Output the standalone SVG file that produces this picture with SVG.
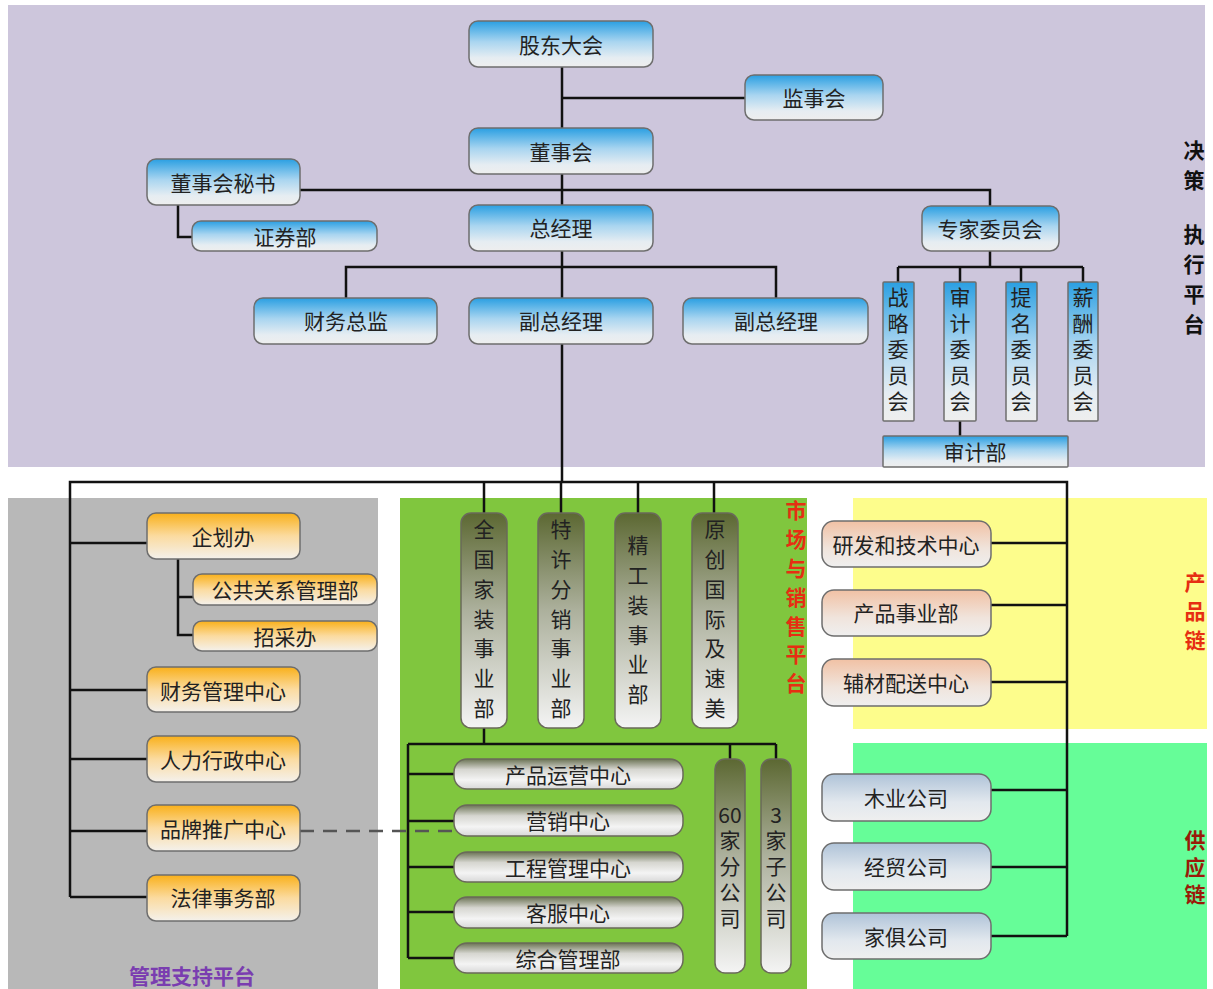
<svg xmlns="http://www.w3.org/2000/svg" width="1213" height="989" viewBox="0 0 1213 989">
<defs>
<linearGradient id="gBlue" x1="0" y1="0" x2="0" y2="1">
<stop offset="0" stop-color="#2a9fe2"/><stop offset="0.45" stop-color="#a9d5f0"/><stop offset="0.8" stop-color="#e6edf2"/><stop offset="1" stop-color="#eeeeee"/>
</linearGradient>
<linearGradient id="gOrange" x1="0" y1="0" x2="0" y2="1">
<stop offset="0" stop-color="#f9b01a"/><stop offset="0.5" stop-color="#fbdba0"/><stop offset="1" stop-color="#f4f1ec"/>
</linearGradient>
<linearGradient id="gOlive" x1="0" y1="0" x2="0" y2="1">
<stop offset="0" stop-color="#5c6832"/><stop offset="0.45" stop-color="#acb09c"/><stop offset="1" stop-color="#f4f4f4"/>
</linearGradient>
<linearGradient id="gPill" x1="0" y1="0" x2="0" y2="1">
<stop offset="0" stop-color="#6b7354"/><stop offset="0.35" stop-color="#d6d6d0"/><stop offset="0.7" stop-color="#f4f4f4"/><stop offset="1" stop-color="#d8d8d8"/>
</linearGradient>
<linearGradient id="gPeach" x1="0" y1="0" x2="0" y2="1">
<stop offset="0" stop-color="#f1c1a4"/><stop offset="0.6" stop-color="#f0e4dc"/><stop offset="1" stop-color="#efefef"/>
</linearGradient>
<linearGradient id="gSteel" x1="0" y1="0" x2="0" y2="1">
<stop offset="0" stop-color="#afc3d8"/><stop offset="0.6" stop-color="#e2e8ee"/><stop offset="1" stop-color="#efefef"/>
</linearGradient>
<style>
.t{font-family:"Noto Sans CJK SC","Liberation Sans",sans-serif;font-size:21px;fill:#222;text-anchor:middle;dominant-baseline:central}
.v{font-family:"Noto Sans CJK SC","Liberation Sans",sans-serif;font-size:21px;fill:#222;writing-mode:vertical-rl;text-anchor:start}
.v5{letter-spacing:5px}
.v9{letter-spacing:8.7px}
.side{font-family:"Noto Sans CJK SC","Liberation Sans",sans-serif;font-size:21px;font-weight:bold;writing-mode:vertical-rl;text-anchor:start}
.sideh{font-family:"Noto Sans CJK SC","Liberation Sans",sans-serif;font-size:21px;font-weight:bold;text-anchor:middle;dominant-baseline:central}
.blue{fill:url(#gBlue);stroke:#6e6e6e;stroke-width:1.5}
.org{fill:url(#gOrange);stroke:#6e6e6e;stroke-width:1.5}
.olv{fill:url(#gOlive);stroke:#6a6a5a;stroke-width:1.5}
.pil{fill:url(#gPill);stroke:#6a6a5a;stroke-width:1.5}
.pch{fill:url(#gPeach);stroke:#6e6e6e;stroke-width:1.5}
.stl{fill:url(#gSteel);stroke:#6e6e6e;stroke-width:1.5}
.ln{fill:none;stroke:#111;stroke-width:2.5}
.dash{fill:none;stroke:#555;stroke-width:2.5;stroke-dasharray:14 9}
</style>
</defs>
<rect width="1213" height="989" fill="#ffffff"/>
<g id="panels">
<rect x="8" y="5" width="1197" height="462" fill="#cdc6dc"/>
<rect x="8" y="498" width="370" height="491" fill="#b8b8b8"/>
<rect x="400" y="498" width="407" height="491" fill="#80c63e"/>
<rect x="853" y="498" width="354" height="231" fill="#fdfd8c"/>
<rect x="853" y="743" width="354" height="246" fill="#66fd98"/>
</g>
<g id="connectors">
<path class="ln" d="M562 67V128M562 98H745M562 174V205M300 190H990V206M178 205V237H192M562 251V298M346 298V267H776V298M562 344V482"/>
<path class="ln" d="M990 251V267M898 267H1083M898 267V282M960 267V282M1021 267V282M1083 267V282M960 421V436"/>
<path class="ln" d="M70 897V482H1067V936M484 482V513M561 482V513M638 482V513M714 482V513"/>
<path class="ln" d="M70 543H147M70 690H147M70 759H147M70 831H147M70 897H147M178 559V635H193M178 597H193"/>
<path class="ln" d="M484 728V744M408 744H776M408 744V958M408 774H454M408 821H454M408 867H454M408 912H454M408 958H454M730 744V759M776 744V759"/>
<path class="ln" d="M991 543H1067M991 605H1067M991 682H1067M991 790H1067M991 867H1067M991 936H1067"/>
<path class="dash" d="M300 831H455"/>
</g>
<g id="n-gudong"><rect class="blue" x="469" y="21" width="184" height="46" rx="9"/><text class="t" x="561" y="44">股东大会</text></g>
<g id="n-jianshi"><rect class="blue" x="745" y="75" width="138" height="45" rx="9"/><text class="t" x="814" y="97">监事会</text></g>
<g id="n-dongshi"><rect class="blue" x="469" y="128" width="184" height="46" rx="9"/><text class="t" x="561" y="151">董事会</text></g>
<g id="n-mishu"><rect class="blue" x="147" y="159" width="153" height="46" rx="9"/><text class="t" x="223" y="182">董事会秘书</text></g>
<g id="n-zhengquan"><rect class="blue" x="192" y="221" width="185" height="30" rx="9"/><text class="t" x="285" y="236">证券部</text></g>
<g id="n-zongjingli"><rect class="blue" x="469" y="205" width="184" height="46" rx="9"/><text class="t" x="561" y="227">总经理</text></g>
<g id="n-zhuanjia"><rect class="blue" x="922" y="206" width="137" height="45" rx="9"/><text class="t" x="990" y="228">专家委员会</text></g>
<g id="n-caiwuzj"><rect class="blue" x="254" y="298" width="183" height="46" rx="9"/><text class="t" x="346" y="320">财务总监</text></g>
<g id="n-fuzong1"><rect class="blue" x="469" y="298" width="184" height="46" rx="9"/><text class="t" x="561" y="320">副总经理</text></g>
<g id="n-fuzong2"><rect class="blue" x="683" y="298" width="185" height="46" rx="9"/><text class="t" x="776" y="320">副总经理</text></g>
<g id="n-zhanlue"><rect class="blue" x="883" y="282" width="31" height="139" rx="1"/><text class="v v5" x="898" y="287">战略委员会</text></g>
<g id="n-shenji"><rect class="blue" x="944" y="282" width="32" height="139" rx="1"/><text class="v v5" x="960" y="287">审计委员会</text></g>
<g id="n-timing"><rect class="blue" x="1006" y="282" width="31" height="139" rx="1"/><text class="v v5" x="1021" y="287">提名委员会</text></g>
<g id="n-xinchou"><rect class="blue" x="1068" y="282" width="30" height="139" rx="1"/><text class="v v5" x="1083" y="287">薪酬委员会</text></g>
<g id="n-shenjibu"><rect class="blue" x="883" y="436" width="185" height="31" rx="1"/><text class="t" x="975" y="451">审计部</text></g>
<g id="lbl-juece"><text class="side" fill="#111" x="1194" y="140" style="letter-spacing:9px">决策</text><text class="side" fill="#111" x="1194" y="224" style="letter-spacing:9px">执行平台</text></g>
<g id="n-qihua"><rect class="org" x="147" y="513" width="153" height="46" rx="9"/><text class="t" x="223" y="536">企划办</text></g>
<g id="n-gonggong"><rect class="org" x="193" y="574" width="184" height="31" rx="9"/><text class="t" x="285" y="589">公共关系管理部</text></g>
<g id="n-zhaocai"><rect class="org" x="193" y="621" width="184" height="30" rx="9"/><text class="t" x="285" y="636">招采办</text></g>
<g id="n-caiwugl"><rect class="org" x="147" y="667" width="153" height="45" rx="9"/><text class="t" x="223" y="690">财务管理中心</text></g>
<g id="n-renli"><rect class="org" x="147" y="736" width="153" height="46" rx="9"/><text class="t" x="223" y="759">人力行政中心</text></g>
<g id="n-pinpai"><rect class="org" x="147" y="805" width="153" height="46" rx="9"/><text class="t" x="223" y="828">品牌推广中心</text></g>
<g id="n-falv"><rect class="org" x="147" y="875" width="153" height="46" rx="9"/><text class="t" x="223" y="897">法律事务部</text></g>
<g id="lbl-guanli"><text class="sideh" fill="#7a3db0" x="192" y="975">管理支持平台</text></g>
<g id="n-quanguo"><rect class="olv" x="461" y="513" width="46" height="215" rx="10"/><text class="v v9" x="484" y="519">全国家装事业部</text></g>
<g id="n-texu"><rect class="olv" x="538" y="513" width="46" height="215" rx="10"/><text class="v v9" x="561" y="519">特许分销事业部</text></g>
<g id="n-jinggong"><rect class="olv" x="615" y="513" width="46" height="215" rx="10"/><text class="v v9" x="638" y="535">精工装事业部</text></g>
<g id="n-yuanchuang"><rect class="olv" x="692" y="513" width="46" height="215" rx="10"/><text class="v v9" x="715" y="519">原创国际及速美</text></g>
<g id="lbl-shichang"><text class="side" fill="#e62e12" x="796" y="500" style="letter-spacing:7.8px">市场与销售平台</text></g>
<g id="n-chanpinyy"><rect class="pil" x="454" y="759" width="229" height="30" rx="13"/><text class="t" x="568" y="774">产品运营中心</text></g>
<g id="n-yingxiao"><rect class="pil" x="454" y="805" width="229" height="31" rx="13"/><text class="t" x="568" y="820">营销中心</text></g>
<g id="n-gongcheng"><rect class="pil" x="454" y="852" width="229" height="30" rx="13"/><text class="t" x="568" y="867">工程管理中心</text></g>
<g id="n-kefu"><rect class="pil" x="454" y="897" width="229" height="31" rx="13"/><text class="t" x="568" y="912">客服中心</text></g>
<g id="n-zonghe"><rect class="pil" x="454" y="943" width="229" height="30" rx="13"/><text class="t" x="568" y="958">综合管理部</text></g>
<g id="n-fengongsi"><rect class="olv" x="715" y="759" width="30" height="214" rx="10"/><text class="t" x="730" y="814">60</text><text class="v v5" x="730" y="830">家分公司</text></g>
<g id="n-zigongsi"><rect class="olv" x="761" y="759" width="30" height="214" rx="10"/><text class="t" x="776" y="814">3</text><text class="v v5" x="776" y="830">家子公司</text></g>
<g id="n-yanfa"><rect class="pch" x="822" y="521" width="169" height="46" rx="12"/><text class="t" x="906" y="544">研发和技术中心</text></g>
<g id="n-chanpinsy"><rect class="pch" x="822" y="590" width="169" height="46" rx="12"/><text class="t" x="906" y="612">产品事业部</text></g>
<g id="n-fucai"><rect class="pch" x="822" y="659" width="169" height="47" rx="12"/><text class="t" x="906" y="682">辅材配送中心</text></g>
<g id="lbl-chanpinlian"><text class="side" fill="#e62e12" x="1195" y="572" style="letter-spacing:8px">产品链</text></g>
<g id="n-muye"><rect class="stl" x="822" y="774" width="169" height="47" rx="12"/><text class="t" x="906" y="797">木业公司</text></g>
<g id="n-jingmao"><rect class="stl" x="822" y="843" width="169" height="47" rx="12"/><text class="t" x="906" y="866">经贸公司</text></g>
<g id="n-jiaju"><rect class="stl" x="822" y="913" width="169" height="46" rx="12"/><text class="t" x="906" y="936">家俱公司</text></g>
<g id="lbl-gongying"><text class="side" fill="#9a1a08" x="1195" y="830" style="letter-spacing:6px">供应链</text></g>
</svg>
